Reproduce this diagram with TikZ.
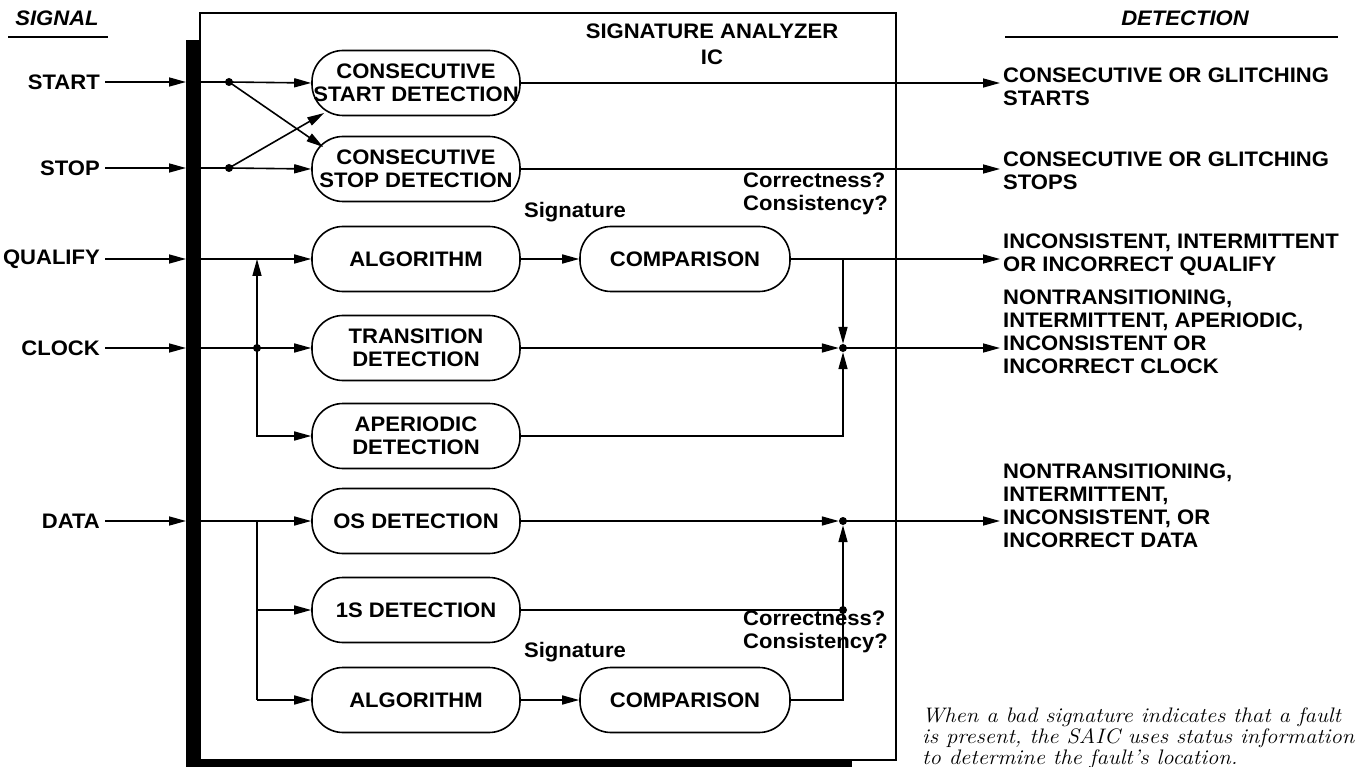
\documentclass[tikz,border=0pt]{standalone}
\usepackage{fontspec}
\newfontfamily\lab{Liberation Sans}[FakeStretch=1.05]
\newfontfamily\capfont{Latin Modern Roman}[FakeStretch=1.08]
\usetikzlibrary{arrows.meta}
\begin{document}
\begin{tikzpicture}[x=1pt,y=-1pt,
  lbl/.style={font=\lab\bfseries\fontsize{21}{23}\selectfont, inner sep=0pt, align=left},
  pill/.style={draw, line width=1.6pt, rounded corners=31pt, minimum width=208pt, minimum height=65pt, inner sep=0pt, align=center, fill=white, font=\lab\bfseries\fontsize{21}{23}\selectfont},
  wire/.style={line width=1.6pt},
  arr/.style={wire, -{Triangle[length=17pt,width=9pt]}},
  jdot/.style={circle, fill, inner sep=0pt, minimum size=8pt},
  captxt/.style={anchor=base west, inner sep=0pt, font=\capfont\itshape\fontsize{21}{22}\selectfont}]
\useasboundingbox (0,0) rectangle (1357,767);
\clip (0,0) rectangle (1357,767);
% chip with shadow
\fill (186,40) rectangle (852,790);
\filldraw[fill=white, line width=1.6pt] (200,13) rectangle (896,760);
% headers
\node[lbl, font=\lab\bfseries\itshape\fontsize{21}{23}\selectfont] (hSig) at (57,18) {SIGNAL};
\draw[wire] (8,37) coordinate (hs1) -- (108,37) coordinate (hs2);
\node[lbl, font=\lab\bfseries\itshape\fontsize{21}{23}\selectfont] (hDet) at (1185,18) {DETECTION};
\draw[wire] (1005,37) coordinate (hd1) -- (1338,37) coordinate (hd2);
\node[lbl, align=center] (title) at (712,44) {SIGNATURE ANALYZER\\[3pt]IC};
% left signal labels
\node[lbl, anchor=east] (sStart) at (100,82) {START};
\node[lbl, anchor=east] (sStop) at (100,168) {STOP};
\node[lbl, anchor=east] (sQual) at (100,259) {QUALIFY};
\node[lbl, anchor=east] (sClk) at (100,348) {CLOCK};
\node[lbl, anchor=east] (sData) at (100,521) {DATA};
\foreach \n/\y in {Start/82,Stop/168,Qual/259,Clk/348,Data/521}{
  \coordinate (bar\n) at (186,\y);
  \coordinate (in\n) at (200,\y);
  \draw[arr] ([xshift=5pt]s\n.east) -- (bar\n);
}
% blocks
\node[pill] (bStart) at (416,83) {CONSECUTIVE\\START DETECTION};
\node[pill] (bStop) at (416,169) {CONSECUTIVE\\STOP DETECTION};
\node[pill] (bAlg1) at (416,259) {ALGORITHM};
\node[pill, minimum width=210pt] (bComp1) at (685,259) {COMPARISON};
\node[pill] (bTrans) at (416,348) {TRANSITION\\DETECTION};
\node[pill] (bAper) at (416,436) {APERIODIC\\DETECTION};
\node[pill] (bOS) at (416,521) {OS DETECTION};
\node[pill] (b1S) at (416,610) {1S DETECTION};
\node[pill] (bAlg2) at (416,700) {ALGORITHM};
\node[pill, minimum width=210pt] (bComp2) at (685,700) {COMPARISON};
% small labels
\node[lbl] (sig1) at (575,212) {Signature};
\node[lbl, anchor=east, align=left] (cc1) at (888,194) {Correctness?\\Consistency?};
\node[lbl] (sig2) at (575,652) {Signature};
\node[lbl, anchor=east, align=left] (cc2) at (888,632) {Correctness?\\Consistency?};
% junction dots
\node[jdot] (dStart) at (229,82) {};
\node[jdot] (dStop) at (229,168) {};
\node[jdot] (dClk) at (257,348) {};
\node[jdot] (mClk) at (843,348) {};
\node[jdot] (mData) at (843,521) {};
\node[jdot] (j1S) at (843,610) {};
\coordinate (jQ) at (257,259);
\coordinate (jA) at (257,436);
\coordinate (jD) at (257,521);
\coordinate (jD1) at (257,610);
\coordinate (jD2) at (257,700);
\coordinate (rQ) at (843,259);
\coordinate (rA) at (843,436);
\coordinate (rC) at (843,700);
\coordinate (tStop) at ([shift={(12,-22)}]bStop.west);
\coordinate (tStart) at ([shift={(13,30)}]bStart.west);
% outputs
\coordinate (oStart) at (1000,83);
\coordinate (oStop) at (1000,169);
\coordinate (oQual) at (1000,259);
\coordinate (oClk) at (1000,348);
\coordinate (oData) at (1000,521);
% inside connectors
\draw[wire] (inStart) -- (dStart.center);
\draw[arr] (dStart.center) -- (bStart.west);
\draw[wire] (inStop) -- (dStop.center);
\draw[arr] (dStop.center) -- (bStop.west);
\draw[arr] (dStart.center) -- (tStop);
\draw[arr] (dStop.center) -- (tStart);
\draw[arr] (inQual) -- (bAlg1.west);
\draw[wire] (inClk) -- (dClk.center);
\draw[arr] (dClk.center) -- (bTrans.west);
\draw[arr] (dClk.center) -- (jQ);
\draw[arr] (dClk.center) -- (jA) -- (bAper.west);
\draw[arr] (inData) -- (bOS.west);
\draw[wire] (jD) -- (jD2);
\draw[arr] (jD1) -- (b1S.west);
\draw[arr] (jD2) -- (bAlg2.west);
\draw[arr] (bAlg1.east) -- (bComp1.west);
\draw[arr] (bAlg2.east) -- (bComp2.west);
% right side
\draw[arr] (bStart.east) -- (oStart);
\draw[arr] (bStop.east) -- (oStop);
\draw[arr] (bComp1.east) -- (oQual);
\draw[arr] (rQ) -- (mClk);
\draw[arr] (bTrans.east) -- (mClk);
\draw[arr] (bAper.east) -- (rA) -- (mClk);
\draw[arr] (mClk.center) -- (oClk);
\draw[arr] (bOS.east) -- (mData);
\draw[arr] (mData.center) -- (oData);
\draw[wire] (b1S.east) -- (j1S.center);
\draw[arr] (j1S.center) -- (mData);
\draw[wire] (bComp2.east) -- (rC) -- (j1S.center);
% right labels
\node[lbl, anchor=west] (tStarts) at (1003,87) {CONSECUTIVE OR GLITCHING\\STARTS};
\node[lbl, anchor=west] (tStops) at (1003,171) {CONSECUTIVE OR GLITCHING\\STOPS};
\node[lbl, anchor=west] (tQual) at (1003,255) {INCONSISTENT, INTERMITTENT\\OR INCORRECT QUALIFY};
\node[lbl, anchor=west] (tClk) at (1003,332) {NONTRANSITIONING,\\INTERMITTENT, APERIODIC,\\INCONSISTENT OR\\INCORRECT CLOCK};
\node[lbl, anchor=west] (tData) at (1003,506) {NONTRANSITIONING,\\INTERMITTENT,\\INCONSISTENT, OR\\INCORRECT DATA};
% caption
\node[captxt] (cap1) at (922,722) {When a bad signature indicates that a fault};
\node[captxt] (cap2) at (922,743) {is present, the SAIC uses status information};
\node[captxt] (cap3) at (922,764) {to determine the fault’s location.};
\end{tikzpicture}
\end{document}
